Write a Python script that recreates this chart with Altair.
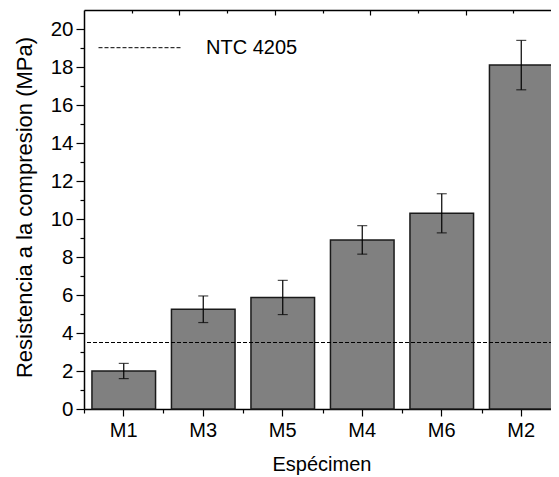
import altair as alt
import pandas as pd

# ---- data ----
specimens = ["M1", "M3", "M5", "M4", "M6", "M2"]
means = [2.0, 5.25, 5.87, 8.9, 10.3, 18.1]
errors = [0.4, 0.7, 0.9, 0.75, 1.03, 1.3]
threshold_label = "NTC 4205"
threshold_value = 3.5
y_major = list(range(0, 21, 2))
y_minor = list(range(1, 21, 2))
frame_major = [2, 4, 6, 8]
frame_minor = [1, 3, 5, 7, 9]

W, H = 475, 399
FONT = "Liberation Sans"

df = pd.DataFrame({"specimen": specimens, "mean": means, "err": errors})
df["low"] = df["mean"] - df["err"]
df["high"] = df["mean"] + df["err"]
thr = pd.DataFrame({"label": [threshold_label], "value": [threshold_value]})
frame = pd.DataFrame({"u": [0.0], "v": [0.0]})

xband = alt.Scale(domain=specimens, paddingInner=0.2, paddingOuter=0.0874, align=0.572)
yscale = alt.Scale(domain=[0, 21], nice=False, zero=True)

base = alt.Chart(df)

bars = base.mark_bar(color="#808080", stroke="#1a1a1a", strokeWidth=1.5).encode(
    x=alt.X("specimen:N", sort=specimens, scale=xband,
            axis=alt.Axis(orient="bottom", title="Espécimen", tickSize=7, labelPadding=4,
                          labelAngle=0, domainWidth=1.5, tickWidth=1.2, labelFontSize=20,
                          titleFontSize=20, titleY=61.7, titleBaseline="alphabetic")),
    y=alt.Y("mean:Q", scale=yscale,
            axis=alt.Axis(orient="left", values=y_major, title="Resistencia a la compresion (MPa)",
                          tickSize=8, labelPadding=3, domainWidth=1.5, tickWidth=1.2,
                          labelFontSize=20.5, titleFontSize=22, titleX=-53, titleY=197,
                          titleBaseline="alphabetic")),
)

err_rule = base.mark_rule(color="black", strokeWidth=1.2).encode(
    x=alt.X("specimen:N", sort=specimens, scale=xband,
            axis=alt.Axis(orient="top", title=None, labels=False, ticks=False,
                          domain=True, domainWidth=1.5)),
    y=alt.Y("low:Q", scale=yscale, axis=None),
    y2="high:Q",
)

caps_low = base.mark_tick(color="black", size=10, thickness=1.2).encode(
    x=alt.X("specimen:N", sort=specimens, scale=xband,
            axis=alt.Axis(orient="bottom", title=None, labels=False, domain=False,
                          tickSize=4, tickWidth=1.2, tickOffset=-39.75)),
    y=alt.Y("low:Q", scale=yscale, axis=None),
)

caps_high = base.mark_tick(color="black", size=10, thickness=1.2).encode(
    x=alt.X("specimen:N", sort=specimens, scale=xband, axis=None),
    y=alt.Y("high:Q", scale=yscale,
            axis=alt.Axis(orient="left", values=y_minor, title=None, labels=False,
                          domain=False, tickSize=4, tickWidth=1.2)),
)

thr_rule = alt.Chart(thr).mark_rule(color="black", strokeWidth=1).encode(
    y=alt.Y("value:Q", scale=yscale, axis=None),
    strokeDash=alt.StrokeDash(
        "label:N", scale=alt.Scale(range=[[4, 2]]),
        legend=alt.Legend(title=None, orient="none", legendX=14, legendY=27.7,
                          symbolType="stroke", symbolSize=7056, symbolStrokeWidth=1,
                          symbolStrokeColor="black", labelFontSize=20, labelFont=FONT,
                          labelColor="black", labelOffset=23, padding=0, clipHeight=20)),
)

frame_major_layer = alt.Chart(frame).mark_point(opacity=0).encode(
    x=alt.X("u:Q", scale=alt.Scale(domain=[0, 9.958], nice=False, zero=True),
            axis=alt.Axis(orient="top", values=frame_major, offset=-5, tickSize=5, tickWidth=1.2,
                          labels=False, domain=False, title=None)),
    y=alt.Y("v:Q", scale=alt.Scale(domain=[0, 10], nice=False, zero=True),
            axis=alt.Axis(orient="right", values=frame_major, offset=-6, tickSize=6, tickWidth=1.2,
                          labels=False, domain=False, title=None)),
)

frame_minor_layer = alt.Chart(frame).mark_point(opacity=0).encode(
    x=alt.X("u:Q", scale=alt.Scale(domain=[0, 9.958], nice=False, zero=True),
            axis=alt.Axis(orient="top", values=frame_minor, offset=-3, tickSize=3, tickWidth=1.2,
                          labels=False, domain=False, title=None)),
    y=alt.Y("v:Q", scale=alt.Scale(domain=[0, 10], nice=False, zero=True),
            axis=alt.Axis(orient="right", values=frame_minor, offset=-2, tickSize=2, tickWidth=1.2,
                          labels=False, domain=False, title=None)),
)

chart = alt.layer(
    bars, err_rule, caps_low, caps_high, thr_rule, frame_major_layer, frame_minor_layer
).resolve_scale(
    x="independent", y="independent"
).properties(
    width=W, height=H,
    autosize=alt.AutoSizeParams(type="none"),
    padding={"left": 76, "top": 2, "right": -8, "bottom": 68},
    background="white",
).configure_view(
    stroke=None
).configure_axis(
    labelFont=FONT, titleFont=FONT, labelColor="black", titleColor="black",
    tickColor="black", domainColor="black", titleFontWeight="normal", grid=False,
)

chart.save("out.html", embed_options={"renderer": "svg", "actions": False})
